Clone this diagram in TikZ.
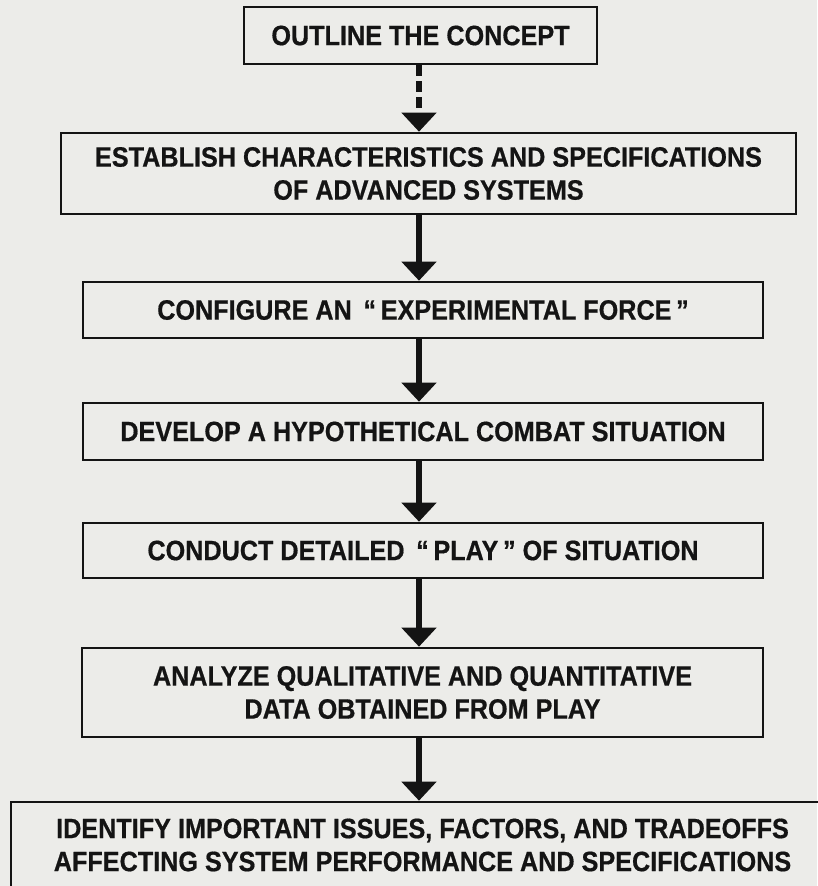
\documentclass[tikz,border=0pt]{standalone}
\usepackage{fontspec}
\setmainfont{Liberation Sans}
\newfontfamily\stepfont[FakeStretch=0.9, FakeBold=0.6]{Liberation Sans}
\usepackage{xcolor}
\usepackage{tikz}
\usetikzlibrary{arrows.meta, positioning, calc}
\definecolor{papercolor}{RGB}{236, 236, 233}
\definecolor{inkcolor}{RGB}{20, 20, 20}

\begin{document}
\begin{tikzpicture}[x=1pt, y=-1pt,
    stepbox/.style={draw=inkcolor, line width=2.6pt, inner sep=0pt, align=center,
        font=\stepfont\fontsize{28}{33}\selectfont\bfseries, text=inkcolor},
    flow/.style={draw=inkcolor, line width=6.5pt, -{Triangle[width=34pt, length=19pt]}},
    dashflow/.style={flow, dash pattern=on 11pt off 5pt}]
    % Paper
    \fill[papercolor] (0, 0) rectangle (817, 886);
    \useasboundingbox (0, 0) rectangle (817, 886);
    \coordinate (axis) at (419, 0);

    % Outline
    \node[stepbox, minimum width=353pt, minimum height=57pt] (outline) at (420.5, 35.5) {OUTLINE THE CONCEPT};

    % Characteristics
    \node[stepbox, minimum width=735pt, minimum height=81pt] (establish) at (428.5, 173.5)
        {ESTABLISH CHARACTERISTICS AND SPECIFICATIONS\\OF ADVANCED SYSTEMS};

    % Experimental force
    \node[stepbox, minimum width=680pt, minimum height=56pt] (configure) at (423, 310)
        {CONFIGURE AN \,“\,EXPERIMENTAL FORCE\,”};

    % Combat situation
    \node[stepbox, minimum width=680pt, minimum height=57pt] (develop) at (423, 431.5)
        {DEVELOP A HYPOTHETICAL COMBAT SITUATION};

    % Play
    \node[stepbox, minimum width=680pt, minimum height=55pt] (conduct) at (423, 550.5)
        {CONDUCT DETAILED \,“\,PLAY\,” OF SITUATION};

    % Analysis
    \node[stepbox, minimum width=681pt, minimum height=89pt] (analyze) at (422.5, 692.5)
        {ANALYZE QUALITATIVE AND QUANTITATIVE\\DATA OBTAINED FROM PLAY};

    % Issues
    \node[stepbox, minimum width=823pt, minimum height=86pt] (identify) at (422.5, 845)
        {IDENTIFY IMPORTANT ISSUES, FACTORS, AND TRADEOFFS\\AFFECTING SYSTEM PERFORMANCE AND SPECIFICATIONS};

    % Flow
    \draw[dashflow] (outline.south -| axis) -- (establish.north -| axis);
    \draw[flow] (establish.south -| axis) -- (configure.north -| axis);
    \draw[flow] (configure.south -| axis) -- (develop.north -| axis);
    \draw[flow] (develop.south -| axis) -- (conduct.north -| axis);
    \draw[flow] (conduct.south -| axis) -- (analyze.north -| axis);
    \draw[flow] (analyze.south -| axis) -- (identify.north -| axis);

\end{tikzpicture}
\end{document}
